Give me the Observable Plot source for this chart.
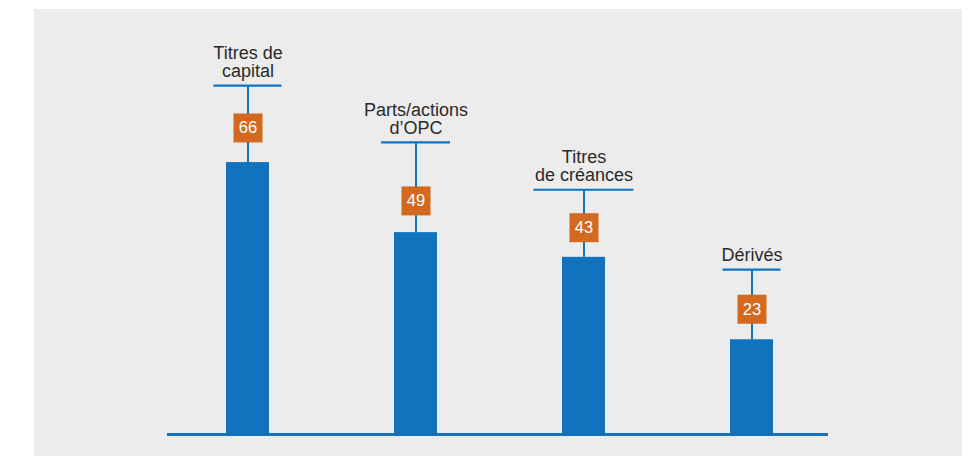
<!DOCTYPE html>
<html>
<head>
<meta charset="utf-8">
<script src="https://cdn.jsdelivr.net/npm/d3@7"></script>
<script src="https://cdn.jsdelivr.net/npm/@observablehq/plot@0.6"></script>
<style>
  html, body { margin: 0; padding: 0; background: #ffffff; }
  #wrap { position: relative; width: 972px; height: 456px; overflow: hidden; }
  #panel { position: absolute; left: 34px; top: 9px; width: 928px; height: 447px; background: #ececec; }
  #chart { position: absolute; left: 0; top: 0; }
  #chart svg { background: transparent; }
</style>
</head>
<body>
<div id="wrap"><div id="panel"></div><div id="chart"></div></div>
<script>
const categories = ["Titres de\ncapital", "Parts/actions\nd\u2019OPC", "Titres\nde créances", "Dérivés"];
const values = [66, 49, 43, 23];
// level (in chart units) of the horizontal leader line and of the value box
const leaderLevels = [84.7, 70.9, 59.4, 40.0];
const boxLevels = [74.4, 56.7, 50.2, 30.4];
const leaderWidths = [68, 69, 100, 58];

const data = categories.map((c, i) => ({
  cat: c, value: values[i], leader: leaderLevels[i], box: boxLevels[i], w: leaderWidths[i]
}));

const blue = "#1273bd";
const orange = "#d2691e";
const bandStep = 168;
const barWidth = 43;
const pInner = 1 - barWidth / bandStep;

const chart = Plot.plot({
  width: 972,
  height: 456,
  marginLeft: 163,
  marginRight: 137,
  marginTop: 22,
  marginBottom: 22,
  style: { fontFamily: "'Liberation Sans', Arial, Helvetica, sans-serif", background: "transparent" },
  x: { domain: categories, paddingInner: pInner, paddingOuter: pInner / 2, align: 0.5, axis: null },
  y: { domain: [0, 100], axis: null },
  marks: [
    Plot.barY(data, { x: "cat", y: "value", fill: blue }),
    Plot.ruleX(data, { x: "cat", y1: "value", y2: "leader", stroke: blue, strokeWidth: 2 }),
    ...data.map(d => Plot.tickY([d], {
      x: "cat", y: "leader", stroke: blue, strokeWidth: 2.2,
      insetLeft: (barWidth - d.w) / 2, insetRight: (barWidth - d.w) / 2
    })),
    Plot.dot(data, { x: "cat", y: "box", symbol: "square", r: 29 / Math.sqrt(Math.PI), fill: orange, stroke: null }),
    Plot.text(data, { x: "cat", y: "box", text: d => String(d.value), fill: "#ffffff", fontSize: 16.5, dy: 0 }),
    Plot.text(data, { x: "cat", y: "leader", text: "cat", lineAnchor: "bottom", lineHeight: 1.02, fontSize: 18, fill: "#2a2a2a", dy: -8.5 }),
    Plot.ruleY([0], { stroke: blue, strokeWidth: 3, insetLeft: 4, insetRight: 7 })
  ]
});
document.getElementById("chart").appendChild(chart);
</script>
</body>
</html>
